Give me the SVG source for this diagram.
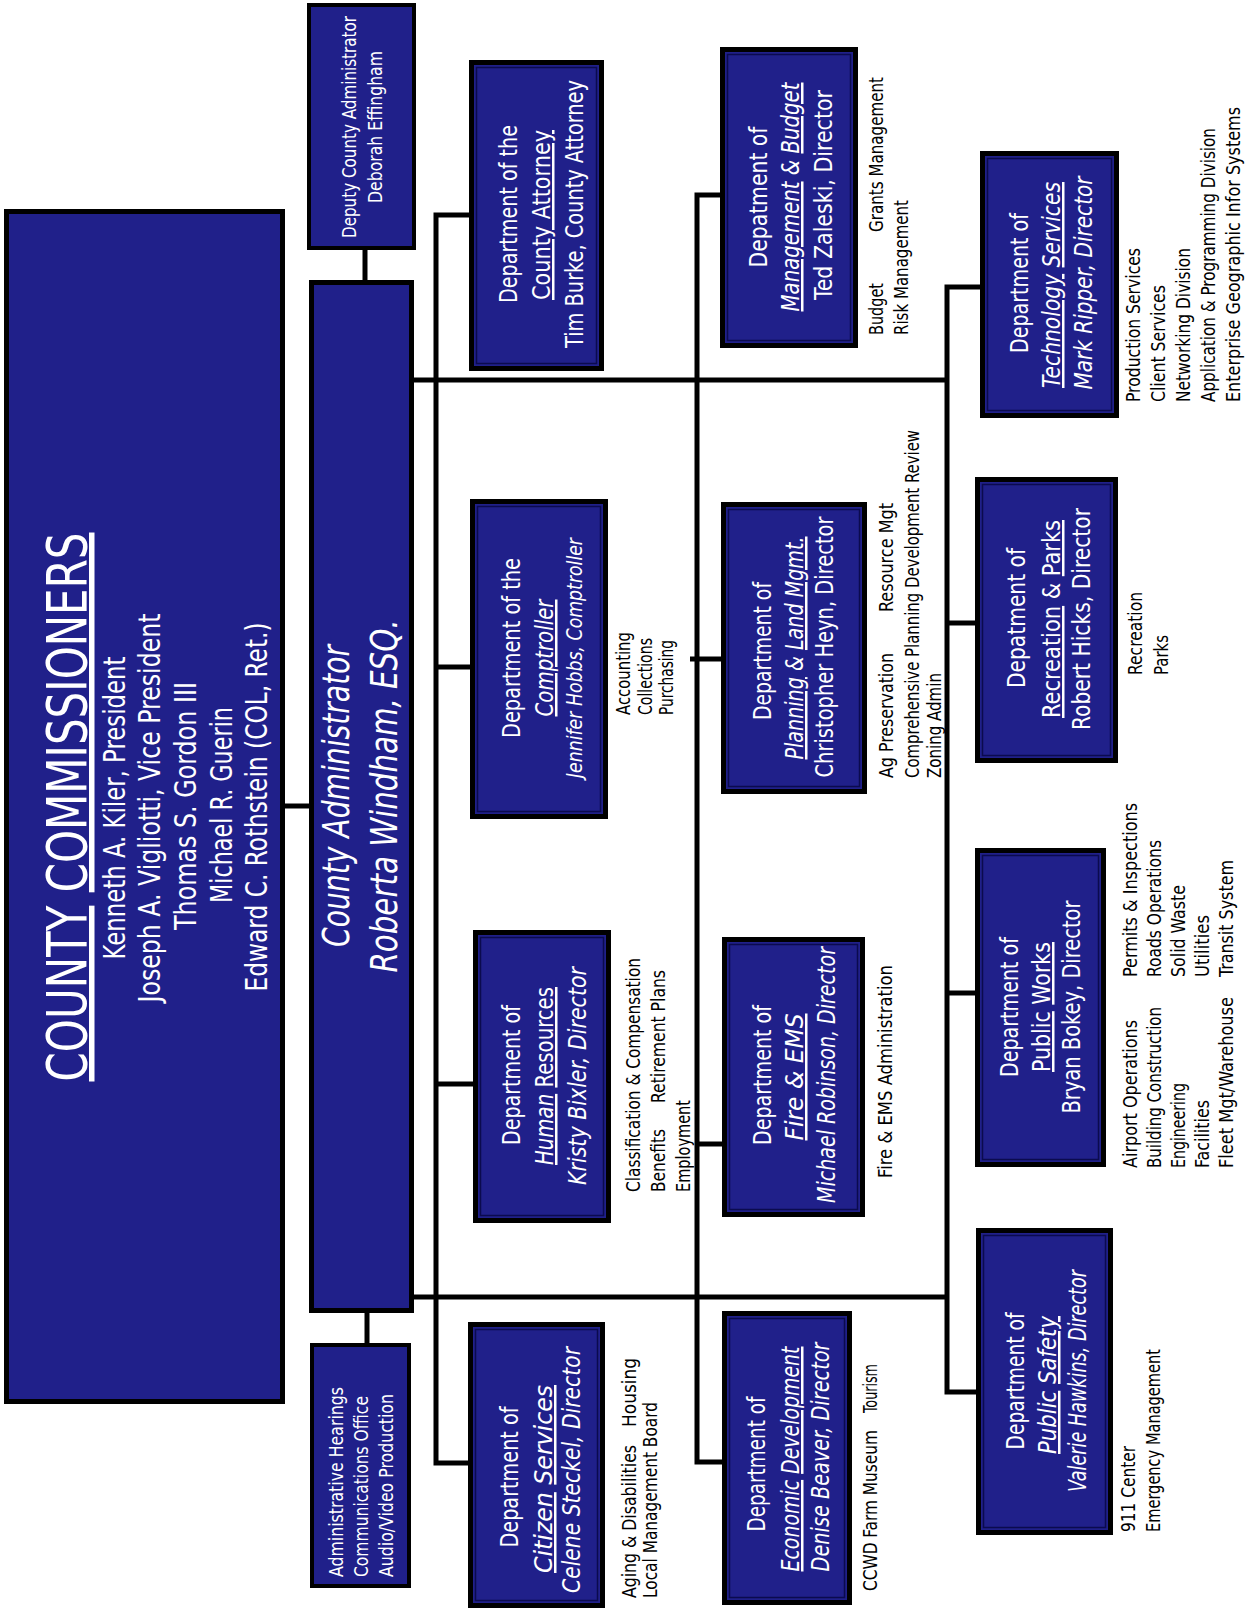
<svg xmlns="http://www.w3.org/2000/svg" width="1256" height="1612" viewBox="0 0 1256 1612">
<style>
.box{fill:#20208a;stroke:#000;stroke-width:5}
.sbox{fill:#20208a;stroke:#000;stroke-width:4}
.inner{fill:none;stroke:#0b0b4e;stroke-width:1.5}
.w{fill:#fff;font-family:"DejaVu Sans Condensed","DejaVu Sans",sans-serif;text-anchor:middle}
.d{font-size:25px}
.i{font-style:italic}
.k{fill:#000;font-family:"DejaVu Sans Condensed","DejaVu Sans",sans-serif;font-size:20px}
.ws{fill:#fff;font-family:"DejaVu Sans Condensed","DejaVu Sans",sans-serif;font-size:19px}
.ln{fill:none;stroke:#000;stroke-width:5}
</style>
<rect width="1256" height="1612" fill="#fff"/>
<g id="connectors">
<path class="ln" d="M285,806 H309"/>
<path class="ln" d="M365,250 V280"/>
<path class="ln" d="M367,1313 V1343"/>
<path class="ln" d="M414,380 H947"/>
<path class="ln" d="M414,1297 H947"/>
<path class="ln" d="M469,215 H436 V1463 H468"/>
<path class="ln" d="M436,667 H470"/>
<path class="ln" d="M436,1084 H473"/>
<path class="ln" d="M720,195 H697 V1462 H722"/>
<path class="ln" d="M690,659 H721"/>
<path class="ln" d="M697,1144 H722"/>
<path class="ln" d="M980,287 H947 V1392 H976"/>
<path class="ln" d="M947,623 H975"/>
<path class="ln" d="M947,993 H975"/>
</g>
<g id="commissioners">
<rect class="box" x="6.5" y="211.5" width="276" height="1190"/>
<text class="w" font-size="55" textLength="549" lengthAdjust="spacingAndGlyphs" transform="translate(86 807) rotate(-90)"><tspan text-decoration="underline">COUNTY</tspan> <tspan text-decoration="underline">COMMISSIONERS</tspan></text>
<text class="w" font-size="30" textLength="303" lengthAdjust="spacingAndGlyphs" transform="translate(125 808) rotate(-90)">Kenneth A. Kiler, President</text>
<text class="w" font-size="30" textLength="389" lengthAdjust="spacingAndGlyphs" transform="translate(160 808) rotate(-90)">Joseph A. Vigliotti, Vice President</text>
<text class="w" font-size="30" textLength="248" lengthAdjust="spacingAndGlyphs" transform="translate(196 806) rotate(-90)">Thomas S. Gordon III</text>
<text class="w" font-size="30" textLength="196" lengthAdjust="spacingAndGlyphs" transform="translate(232 805) rotate(-90)">Michael R. Guerin</text>
<text class="w" font-size="30" textLength="369" lengthAdjust="spacingAndGlyphs" transform="translate(267 807) rotate(-90)">Edward C. Rothstein (COL, Ret.)</text>
</g>
<g id="deputy">
<rect class="sbox" x="309" y="5" width="105" height="243"/>
<text class="w" font-size="19" textLength="222" lengthAdjust="spacingAndGlyphs" transform="translate(356 127) rotate(-90)">Deputy County Administrator</text>
<text class="w" font-size="19" textLength="152" lengthAdjust="spacingAndGlyphs" transform="translate(382 127) rotate(-90)">Deborah Effingham</text>
</g>
<g id="administrator">
<rect class="box" x="311.5" y="282.5" width="100" height="1028"/>
<text class="w i" font-size="38" textLength="302" lengthAdjust="spacingAndGlyphs" transform="translate(349 796) rotate(-90)">County Administrator</text>
<text class="w i" font-size="38" textLength="353" lengthAdjust="spacingAndGlyphs" transform="translate(397 796) rotate(-90)">Roberta Windham, ESQ.</text>
</g>
<g id="hearings">
<rect class="sbox" x="312" y="1345" width="97" height="241"/>
<text class="ws" textLength="190" lengthAdjust="spacingAndGlyphs" transform="translate(343 1577) rotate(-90)">Administrative Hearings</text>
<text class="ws" textLength="181" lengthAdjust="spacingAndGlyphs" transform="translate(368 1577) rotate(-90)">Communications Office</text>
<text class="ws" textLength="183" lengthAdjust="spacingAndGlyphs" transform="translate(393 1577) rotate(-90)">Audio/Video Production</text>
</g>
<g id="attorney">
<rect class="box" x="471.5" y="62.5" width="130" height="306"/>
<rect class="inner" x="476.5" y="67.5" width="120" height="296"/>
<text class="w d" textLength="178" lengthAdjust="spacingAndGlyphs" transform="translate(517 214) rotate(-90)">Department of the</text>
<text class="w d" textLength="170" lengthAdjust="spacingAndGlyphs" transform="translate(550 215) rotate(-90)"><tspan text-decoration="underline">County Attorney</tspan></text>
<text class="w d" textLength="268" lengthAdjust="spacingAndGlyphs" transform="translate(583 214) rotate(-90)">Tim Burke, County Attorney</text>
</g>
<g id="management">
<rect class="box" x="722.5" y="49.5" width="133" height="296"/>
<rect class="inner" x="727.5" y="54.5" width="123" height="286"/>
<text class="w d" textLength="141" lengthAdjust="spacingAndGlyphs" transform="translate(767 197) rotate(-90)">Depatment of</text>
<text class="w d i" textLength="229" lengthAdjust="spacingAndGlyphs" transform="translate(799 197) rotate(-90)"><tspan text-decoration="underline">Management</tspan> &amp; <tspan text-decoration="underline">Budget</tspan></text>
<text class="w d" textLength="210" lengthAdjust="spacingAndGlyphs" transform="translate(832 195) rotate(-90)">Ted Zaleski, Director</text>
<text class="k" textLength="52" lengthAdjust="spacingAndGlyphs" transform="translate(883 335) rotate(-90)">Budget</text>
<text class="k" textLength="155" lengthAdjust="spacingAndGlyphs" transform="translate(883 232) rotate(-90)">Grants Management</text>
<text class="k" textLength="135" lengthAdjust="spacingAndGlyphs" transform="translate(908 335) rotate(-90)">Risk Management</text>
</g>
<g id="comptroller">
<rect class="box" x="472.5" y="501.5" width="133" height="315"/>
<rect class="inner" x="477.5" y="506.5" width="123" height="305"/>
<text class="w d" textLength="180" lengthAdjust="spacingAndGlyphs" transform="translate(520 648) rotate(-90)">Department of the</text>
<text class="w d i" textLength="117" lengthAdjust="spacingAndGlyphs" transform="translate(553 658) rotate(-90)"><tspan text-decoration="underline">Comptroller</tspan></text>
<text class="w i" font-size="22" textLength="240" lengthAdjust="spacingAndGlyphs" transform="translate(582 658) rotate(-90)">Jennifer Hobbs, Comptroller</text>
<text class="k" textLength="83" lengthAdjust="spacingAndGlyphs" transform="translate(630 715) rotate(-90)">Accounting</text>
<text class="k" textLength="77" lengthAdjust="spacingAndGlyphs" transform="translate(652 715) rotate(-90)">Collections</text>
<text class="k" textLength="75" lengthAdjust="spacingAndGlyphs" transform="translate(673 715) rotate(-90)">Purchasing</text>
</g>
<g id="planning">
<rect class="box" x="723.5" y="504.5" width="141" height="287"/>
<rect class="inner" x="728.5" y="509.5" width="131" height="277"/>
<text class="w d" textLength="138" lengthAdjust="spacingAndGlyphs" transform="translate(771 651) rotate(-90)">Department of</text>
<text class="w d i" textLength="223" lengthAdjust="spacingAndGlyphs" transform="translate(803 648) rotate(-90)"><tspan text-decoration="underline">Planning</tspan>  &amp; <tspan text-decoration="underline">Land Mgmt.</tspan></text>
<text class="w d" textLength="261" lengthAdjust="spacingAndGlyphs" transform="translate(833 647) rotate(-90)">Christopher Heyn, Director</text>
<text class="k" textLength="125" lengthAdjust="spacingAndGlyphs" transform="translate(893 778) rotate(-90)">Ag Preservation</text>
<text class="k" textLength="109" lengthAdjust="spacingAndGlyphs" transform="translate(893 612) rotate(-90)">Resource Mgt</text>
<text class="k" textLength="348" lengthAdjust="spacingAndGlyphs" transform="translate(919 778) rotate(-90)">Comprehensive Planning Development Review</text>
<text class="k" textLength="105" lengthAdjust="spacingAndGlyphs" transform="translate(941 778) rotate(-90)">Zoning Admin</text>
</g>
<g id="human-resources">
<rect class="box" x="475.5" y="932.5" width="133" height="288"/>
<rect class="inner" x="480.5" y="937.5" width="123" height="278"/>
<text class="w d" textLength="140" lengthAdjust="spacingAndGlyphs" transform="translate(520 1075) rotate(-90)">Department of</text>
<text class="w d" textLength="178" lengthAdjust="spacingAndGlyphs" transform="translate(553 1076) rotate(-90)"><tspan text-decoration="underline" font-style="italic">Human</tspan> <tspan text-decoration="underline">Resources</tspan></text>
<text class="w d i" textLength="218" lengthAdjust="spacingAndGlyphs" transform="translate(586 1076) rotate(-90)">Kristy Bixler, Director</text>
<text class="k" textLength="234" lengthAdjust="spacingAndGlyphs" transform="translate(640 1192) rotate(-90)">Classification &amp; Compensation</text>
<text class="k" textLength="63" lengthAdjust="spacingAndGlyphs" transform="translate(665 1192) rotate(-90)">Benefits</text>
<text class="k" textLength="133" lengthAdjust="spacingAndGlyphs" transform="translate(665 1103) rotate(-90)">Retirement Plans</text>
<text class="k" textLength="92" lengthAdjust="spacingAndGlyphs" transform="translate(690 1192) rotate(-90)">Employment</text>
</g>
<g id="fire-ems">
<rect class="box" x="724.5" y="939.5" width="138" height="275"/>
<rect class="inner" x="729.5" y="944.5" width="128" height="265"/>
<text class="w d" textLength="140" lengthAdjust="spacingAndGlyphs" transform="translate(771 1075) rotate(-90)">Department of</text>
<text class="w d i" textLength="127" lengthAdjust="spacingAndGlyphs" transform="translate(803 1077) rotate(-90)"><tspan text-decoration="underline">Fire &amp; EMS</tspan></text>
<text class="w d i" textLength="256" lengthAdjust="spacingAndGlyphs" transform="translate(835 1075) rotate(-90)">Michael Robinson, Director</text>
<text class="k" textLength="213" lengthAdjust="spacingAndGlyphs" transform="translate(892 1178) rotate(-90)">Fire &amp; EMS Administration</text>
</g>
<g id="citizen-services">
<rect class="box" x="470.5" y="1324.5" width="132" height="281"/>
<rect class="inner" x="475.5" y="1329.5" width="122" height="271"/>
<text class="w d" textLength="141" lengthAdjust="spacingAndGlyphs" transform="translate(518 1477) rotate(-90)">Department of</text>
<text class="w d i" textLength="188" lengthAdjust="spacingAndGlyphs" transform="translate(552 1479) rotate(-90)"><tspan text-decoration="underline">Citizen</tspan> <tspan text-decoration="underline">Services</tspan></text>
<text class="w d i" textLength="246" lengthAdjust="spacingAndGlyphs" transform="translate(580 1470) rotate(-90)">Celene Steckel, Director</text>
<text class="k" textLength="153" lengthAdjust="spacingAndGlyphs" transform="translate(636 1598) rotate(-90)">Aging &amp; Disabilities</text>
<text class="k" textLength="69" lengthAdjust="spacingAndGlyphs" transform="translate(636 1427) rotate(-90)">Housing</text>
<text class="k" textLength="196" lengthAdjust="spacingAndGlyphs" transform="translate(657 1598) rotate(-90)">Local Management Board</text>
</g>
<g id="economic-development">
<rect class="box" x="724.5" y="1313.5" width="125" height="289"/>
<rect class="inner" x="729.5" y="1318.5" width="115" height="279"/>
<text class="w d" textLength="135" lengthAdjust="spacingAndGlyphs" transform="translate(765 1464) rotate(-90)">Department of</text>
<text class="w d i" textLength="225" lengthAdjust="spacingAndGlyphs" transform="translate(799 1459) rotate(-90)"><tspan text-decoration="underline">Economic</tspan> <tspan text-decoration="underline">Development</tspan></text>
<text class="w d i" textLength="229" lengthAdjust="spacingAndGlyphs" transform="translate(829 1457) rotate(-90)">Denise Beaver, Director</text>
<text class="k" textLength="161" lengthAdjust="spacingAndGlyphs" transform="translate(877 1591) rotate(-90)">CCWD Farm Museum</text>
<text class="k" textLength="49" lengthAdjust="spacingAndGlyphs" transform="translate(877 1413) rotate(-90)">Tourism</text>
</g>
<g id="technology-services">
<rect class="box" x="982.5" y="153.5" width="134" height="262"/>
<rect class="inner" x="987.5" y="158.5" width="124" height="252"/>
<text class="w d" textLength="140" lengthAdjust="spacingAndGlyphs" transform="translate(1028 283) rotate(-90)">Department of</text>
<text class="w d i" textLength="206" lengthAdjust="spacingAndGlyphs" transform="translate(1060 285) rotate(-90)"><tspan text-decoration="underline">Technology</tspan> <tspan text-decoration="underline">Services</tspan></text>
<text class="w d i" textLength="213" lengthAdjust="spacingAndGlyphs" transform="translate(1092 283) rotate(-90)">Mark Ripper, Director</text>
<text class="k" textLength="154" lengthAdjust="spacingAndGlyphs" transform="translate(1140 402) rotate(-90)">Production Services</text>
<text class="k" textLength="117" lengthAdjust="spacingAndGlyphs" transform="translate(1165 402) rotate(-90)">Client Services</text>
<text class="k" textLength="154" lengthAdjust="spacingAndGlyphs" transform="translate(1190 402) rotate(-90)">Networking Division</text>
<text class="k" textLength="274" lengthAdjust="spacingAndGlyphs" transform="translate(1215 402) rotate(-90)">Application &amp; Programming Division</text>
<text class="k" textLength="295" lengthAdjust="spacingAndGlyphs" transform="translate(1240 402) rotate(-90)">Enterprise Geographic Infor Systems</text>
</g>
<g id="recreation-parks">
<rect class="box" x="977.5" y="479.5" width="138" height="281"/>
<rect class="inner" x="982.5" y="484.5" width="128" height="271"/>
<text class="w d" textLength="140" lengthAdjust="spacingAndGlyphs" transform="translate(1025 618) rotate(-90)">Depatment of</text>
<text class="w d" textLength="198" lengthAdjust="spacingAndGlyphs" transform="translate(1060 619) rotate(-90)"><tspan text-decoration="underline">Recreation</tspan> &amp; <tspan text-decoration="underline">Parks</tspan></text>
<text class="w d" textLength="222" lengthAdjust="spacingAndGlyphs" transform="translate(1090 619) rotate(-90)">Robert Hicks, Director</text>
<text class="k" textLength="83" lengthAdjust="spacingAndGlyphs" transform="translate(1142 675) rotate(-90)">Recreation</text>
<text class="k" textLength="40" lengthAdjust="spacingAndGlyphs" transform="translate(1168 675) rotate(-90)">Parks</text>
</g>
<g id="public-works">
<rect class="box" x="977.5" y="850.5" width="126" height="314"/>
<rect class="inner" x="982.5" y="855.5" width="116" height="304"/>
<text class="w d" textLength="140" lengthAdjust="spacingAndGlyphs" transform="translate(1018 1007) rotate(-90)">Department of</text>
<text class="w d" textLength="130" lengthAdjust="spacingAndGlyphs" transform="translate(1050 1007) rotate(-90)"><tspan text-decoration="underline">Public</tspan> <tspan text-decoration="underline">Works</tspan></text>
<text class="w d" textLength="213" lengthAdjust="spacingAndGlyphs" transform="translate(1080 1007) rotate(-90)">Bryan Bokey, Director</text>
<text class="k" textLength="148" lengthAdjust="spacingAndGlyphs" transform="translate(1137 1168) rotate(-90)">Airport Operations</text>
<text class="k" textLength="161" lengthAdjust="spacingAndGlyphs" transform="translate(1161 1168) rotate(-90)">Building Construction</text>
<text class="k" textLength="85" lengthAdjust="spacingAndGlyphs" transform="translate(1185 1168) rotate(-90)">Engineering</text>
<text class="k" textLength="68" lengthAdjust="spacingAndGlyphs" transform="translate(1209 1168) rotate(-90)">Facilities</text>
<text class="k" textLength="171" lengthAdjust="spacingAndGlyphs" transform="translate(1233 1168) rotate(-90)">Fleet Mgt/Warehouse</text>
<text class="k" textLength="174" lengthAdjust="spacingAndGlyphs" transform="translate(1137 977) rotate(-90)">Permits &amp; Inspections</text>
<text class="k" textLength="137" lengthAdjust="spacingAndGlyphs" transform="translate(1161 977) rotate(-90)">Roads Operations</text>
<text class="k" textLength="92" lengthAdjust="spacingAndGlyphs" transform="translate(1185 977) rotate(-90)">Solid Waste</text>
<text class="k" textLength="62" lengthAdjust="spacingAndGlyphs" transform="translate(1209 977) rotate(-90)">Utilities</text>
<text class="k" textLength="117" lengthAdjust="spacingAndGlyphs" transform="translate(1233 977) rotate(-90)">Transit System</text>
</g>
<g id="public-safety">
<rect class="box" x="978.5" y="1230.5" width="132" height="302"/>
<rect class="inner" x="983.5" y="1235.5" width="122" height="292"/>
<text class="w d" textLength="137" lengthAdjust="spacingAndGlyphs" transform="translate(1024 1381) rotate(-90)">Department of</text>
<text class="w d i" textLength="138" lengthAdjust="spacingAndGlyphs" transform="translate(1056 1385) rotate(-90)"><tspan text-decoration="underline">Public</tspan> <tspan text-decoration="underline">Safety</tspan></text>
<text class="w d i" textLength="222" lengthAdjust="spacingAndGlyphs" transform="translate(1086 1381) rotate(-90)">Valerie Hawkins, Director</text>
<text class="k" textLength="86" lengthAdjust="spacingAndGlyphs" transform="translate(1135 1532) rotate(-90)">911 Center</text>
<text class="k" textLength="183" lengthAdjust="spacingAndGlyphs" transform="translate(1160 1532) rotate(-90)">Emergency Management</text>
</g>
</svg>
